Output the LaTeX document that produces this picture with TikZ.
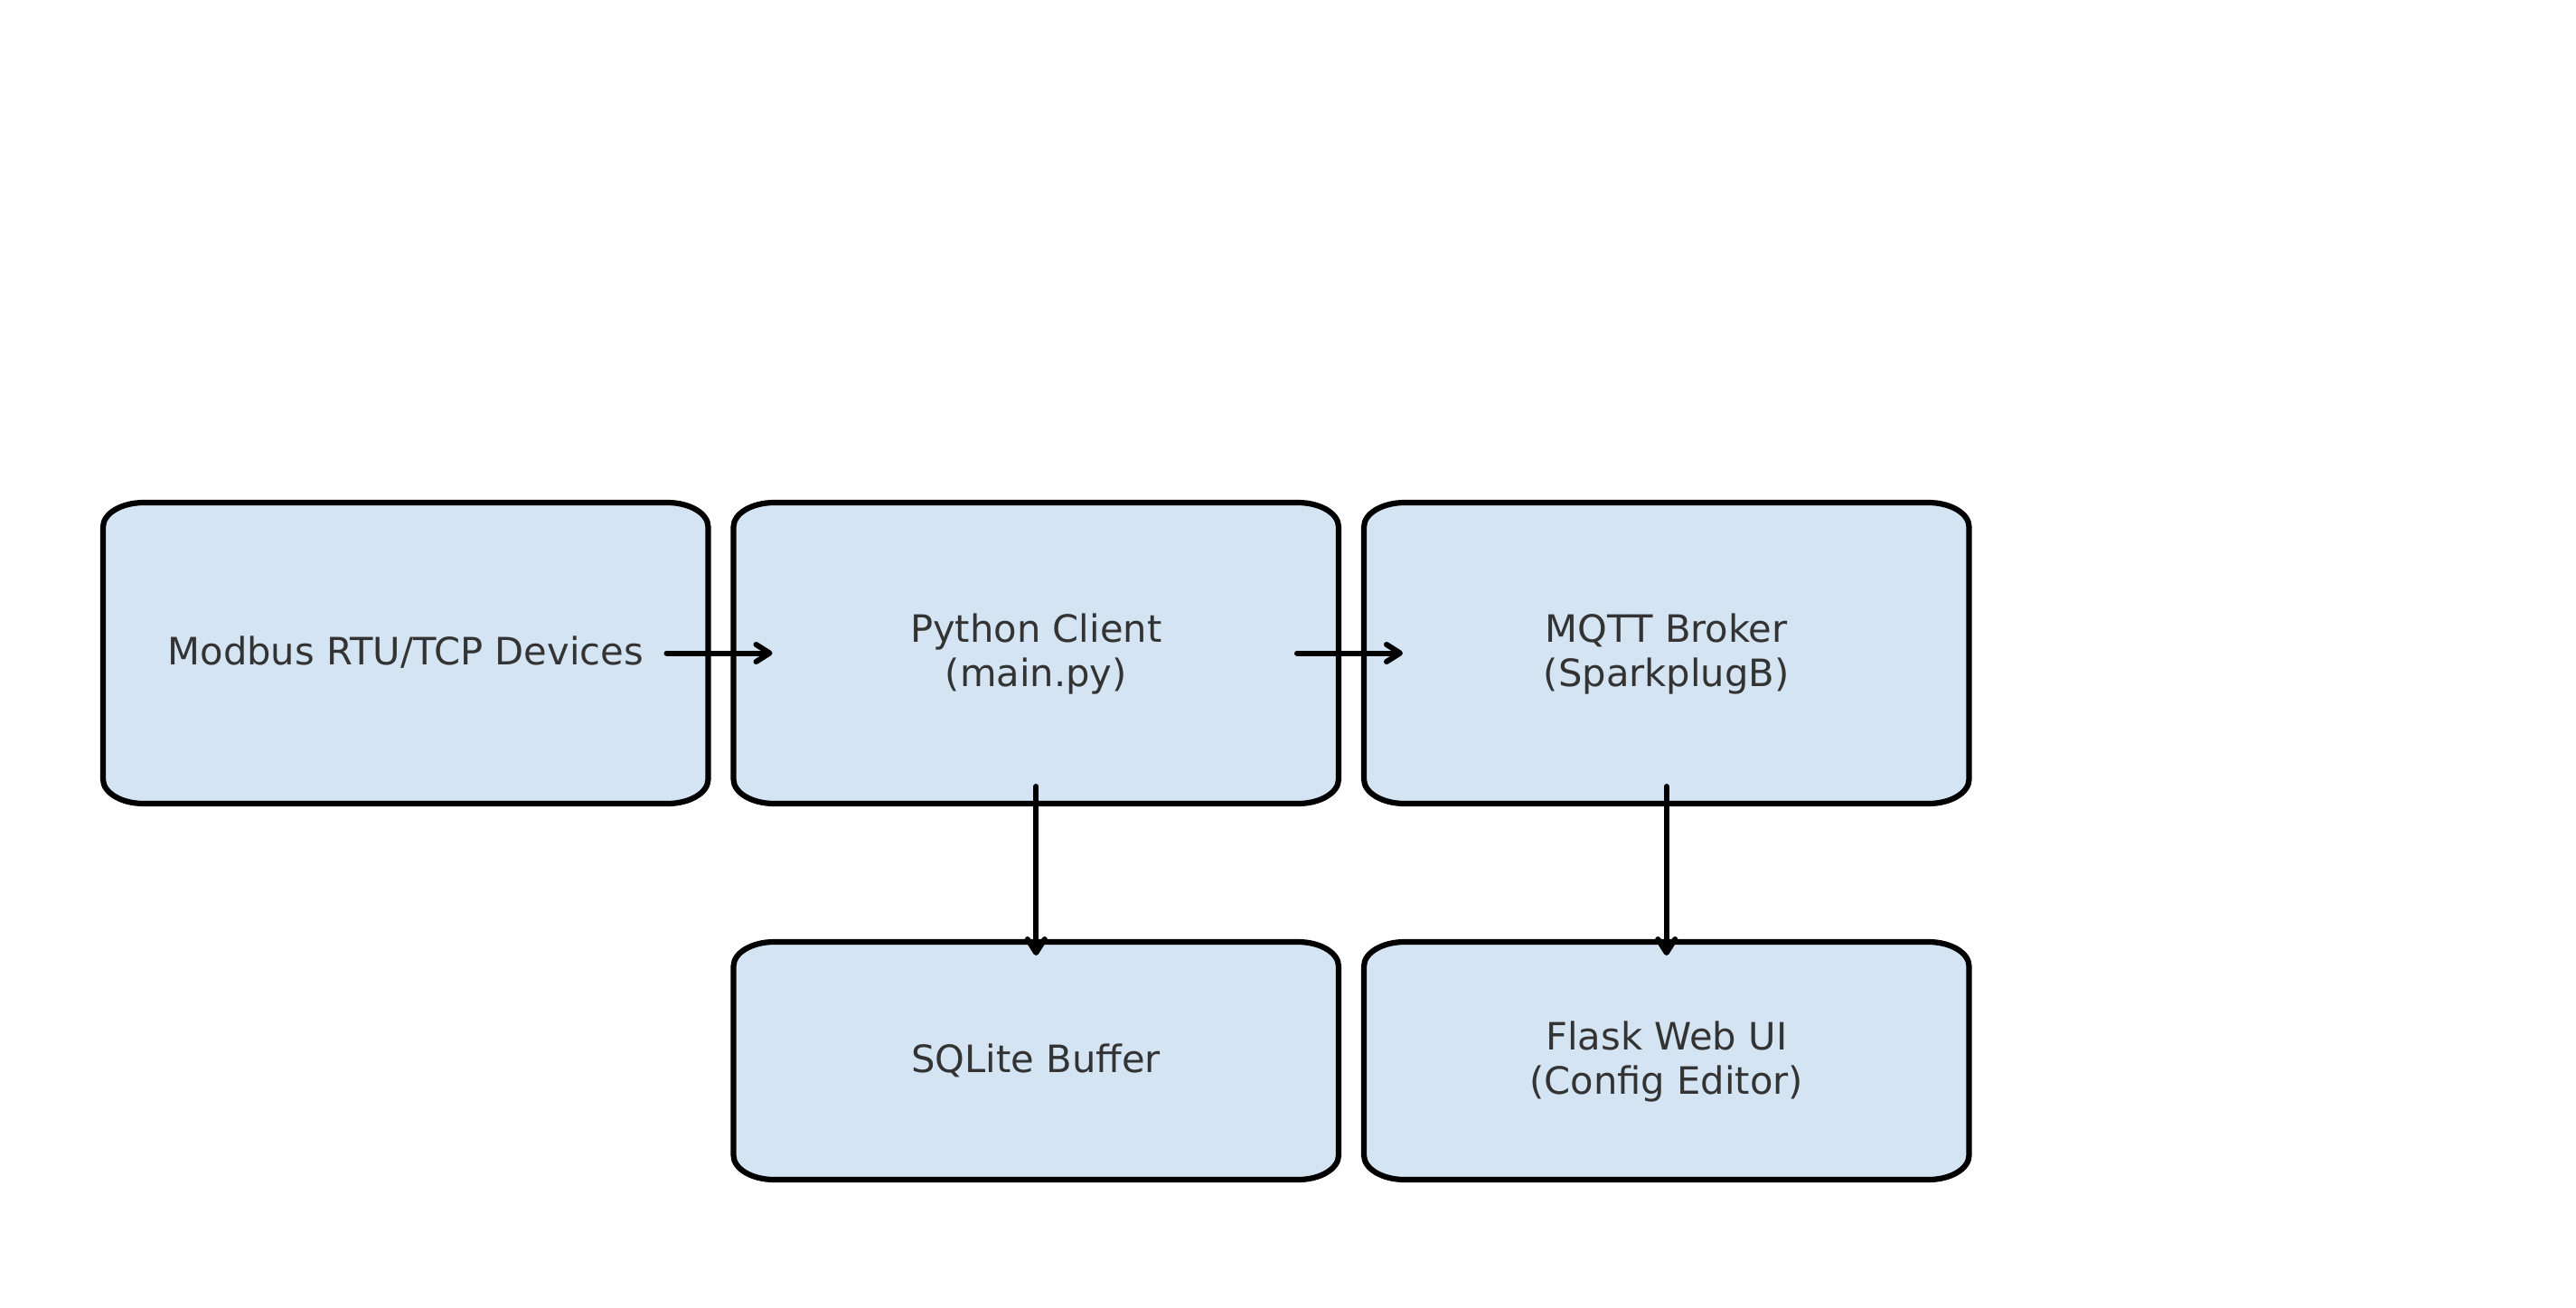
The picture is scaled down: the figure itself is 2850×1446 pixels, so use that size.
\documentclass[tikz,border=0pt]{standalone}
\usepackage{fontspec}
\setmainfont{DejaVu Sans}
\usetikzlibrary{arrows.meta,backgrounds}
\definecolor{boxfill}{RGB}{212,228,242}
\definecolor{txt}{RGB}{51,51,51}
\tikzset{
  blk/.style={rectangle, inner sep=0pt, outer sep=0pt, minimum width=669.5pt, text=txt, align=center, font=\fontsize{41.67}{48.6}\selectfont},
  tall/.style={blk, minimum height=333pt},
  short/.style={blk, minimum height=263pt},
  oneline/.style={text height=37.5pt, text depth=12.5pt},
  twoline/.style={text height=86.1pt, text depth=12.5pt},
  boxline/.style={draw=black, fill=boxfill, line width=6.2pt},
  flow/.style={draw=black, line width=6pt, line cap=round, -{Straight Barb[length=15pt,width=19pt,round]}},
}
\newcommand\ebox[1]{\path[boxline] ([xshift=45pt]#1.north west) -- ([xshift=-45pt]#1.north east) arc[start angle=90,end angle=0,x radius=45pt,y radius=27pt] -- ([yshift=27pt]#1.south east) arc[start angle=0,end angle=-90,x radius=45pt,y radius=27pt] -- ([xshift=45pt]#1.south west) arc[start angle=270,end angle=180,x radius=45pt,y radius=27pt] -- ([yshift=-27pt]#1.north west) arc[start angle=180,end angle=90,x radius=45pt,y radius=27pt] -- cycle;}
\begin{document}
\begin{tikzpicture}[x=1pt,y=-1pt]
\useasboundingbox (0,0) rectangle (2850,1446);
\node[tall,oneline] (mod) at (448.75,722.5) {Modbus RTU/TCP Devices};
\node[tall,twoline] (py) at (1146.25,722.5) {Python Client\\(main.py)};
\node[tall,twoline] (mqtt) at (1843.75,722.5) {MQTT Broker\\(SparkplugB)};
\node[short,oneline] (sql) at (1146.25,1173.5) {SQLite Buffer};
\node[short,twoline] (flask) at (1843.75,1173.5) {Flask Web UI\\(Config Editor)};
\begin{pgfonlayer}{background}
\ebox{mod}
\ebox{py}
\ebox{mqtt}
\ebox{sql}
\ebox{flask}
\end{pgfonlayer}
\draw[flow] ([xshift=-46pt]mod.east) -- ([xshift=43pt]py.west);
\draw[flow] ([xshift=-46pt]py.east) -- ([xshift=43pt]mqtt.west);
\draw[flow] ([yshift=19pt]py.south) -- ([yshift=-15pt]sql.north);
\draw[flow] ([yshift=19pt]mqtt.south) -- ([yshift=-15pt]flask.north);
\end{tikzpicture}
\end{document}
